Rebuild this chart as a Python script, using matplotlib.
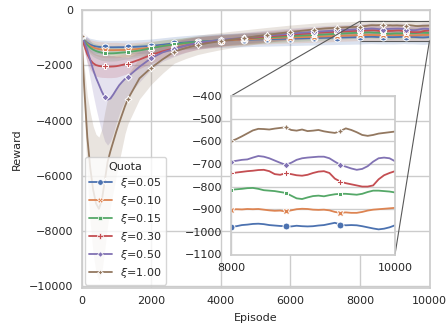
import numpy as np
import matplotlib
matplotlib.use('Agg')
import matplotlib.pyplot as plt
import seaborn as sns
from matplotlib.lines import Line2D
from mpl_toolkits.axes_grid1.inset_locator import mark_inset

# ---------------- data ----------------
quota_labels = ['0.05', '0.10', '0.15', '0.30', '0.50', '1.00']

# episode grid: fine at start, coarse in the middle, fine in the zoomed range
ep_start = np.linspace(0, 4000 / 3, 17)
ep_mid = np.linspace(5000 / 3, 23000 / 3, 19)
ep_end = np.linspace(8000, 10000, 31)
episodes = np.concatenate([ep_start, ep_mid, ep_end])

reward_005 = [
    -950, -1080, -1180, -1250, -1290, -1315, -1330, -1338, -1342, -1345, -1345, -1345, -1344, -1342, -1342, -1341, -1340,
    -1320, -1295, -1250, -1205, -1170, -1140, -1120, -1100, -1088, -1075, -1062, -1052, -1042, -1032, -1022, -1012, -1002, -994, -986,
    -978, -975, -970, -968, -965, -964, -966, -970, -972, -974, -975, -976, -973, -975, -976, -975, -972, -970, -965, -960,
    -968, -971, -970, -971, -975, -980, -985, -989, -986, -980, -971]
reward_010 = [
    -950, -1100, -1220, -1300, -1350, -1385, -1410, -1425, -1440, -1445, -1448, -1448, -1446, -1444, -1442, -1441, -1440,
    -1400, -1355, -1300, -1250, -1205, -1170, -1140, -1110, -1085, -1062, -1040, -1022, -1005, -990, -976, -962, -950, -933, -918,
    -902, -900, -901, -899, -900, -899, -902, -905, -907, -906, -910, -905, -900, -898, -899, -902, -903, -902, -905, -912,
    -916, -914, -916, -916, -912, -906, -902, -900, -898, -896, -894]
reward_015 = [
    -950, -1120, -1260, -1360, -1430, -1480, -1515, -1540, -1555, -1562, -1565, -1562, -1555, -1545, -1535, -1527, -1520,
    -1460, -1380, -1300, -1240, -1190, -1150, -1120, -1090, -1062, -1036, -1010, -986, -963, -940, -920, -900, -880, -855, -835,
    -814, -812, -810, -807, -806, -810, -816, -818, -820, -824, -828, -840, -852, -855, -848, -842, -840, -843, -838, -834,
    -832, -832, -834, -836, -832, -824, -818, -818, -820, -822, -826]
reward_030 = [
    -950, -1300, -1600, -1800, -1920, -1990, -2020, -2035, -2040, -2045, -2045, -2040, -2030, -2010, -1985, -1960, -1940,
    -1790, -1620, -1490, -1380, -1280, -1195, -1145, -1100, -1063, -1026, -990, -956, -922, -890, -860, -830, -800, -780, -760,
    -742, -738, -735, -732, -730, -727, -726, -732, -745, -748, -741, -745, -750, -752, -748, -740, -734, -732, -740, -765,
    -778, -785, -790, -795, -800, -800, -795, -768, -750, -740, -732]
reward_050 = [
    -950, -1150, -1450, -1800, -2150, -2450, -2700, -2950, -3150, -3240, -3200, -3050, -2880, -2720, -2600, -2490, -2410,
    -2050, -1740, -1530, -1400, -1280, -1180, -1125, -1080, -1040, -1000, -960, -922, -886, -850, -818, -788, -760, -735, -712,
    -690, -686, -682, -680, -672, -665, -668, -675, -685, -695, -704, -695, -682, -675, -672, -670, -668, -668, -675, -690,
    -704, -712, -720, -726, -722, -710, -690, -675, -672, -675, -688]
reward_100 = [
    -950, -2900, -4600, -5700, -6500, -7000, -7200, -6900, -6200, -5500, -5100, -4750, -4400, -4080, -3780, -3480, -3220,
    -2470, -2090, -1780, -1500, -1370, -1260, -1185, -1120, -1060, -1005, -950, -895, -843, -790, -745, -700, -660, -635, -615,
    -600, -590, -578, -565, -552, -545, -546, -548, -544, -541, -538, -550, -553, -548, -555, -553, -550, -556, -560, -563,
    -555, -543, -550, -560, -572, -576, -572, -566, -563, -560, -557]

# half-width of the shaded band (start + middle), then the late value
band_005 = [80, 150, 200, 230, 250, 250, 250, 250, 250, 250, 250, 250, 250, 250, 250, 250, 250,
            250, 250, 250, 250, 250, 250, 250, 250, 250, 250, 250, 250, 250, 250, 250, 250, 250, 250, 250]
band_010 = [80, 150, 200, 230, 250, 260, 270, 280, 280, 280, 280, 280, 280, 270, 260, 250, 250,
            240, 230, 220, 210, 200, 200, 200, 200, 200, 200, 200, 200, 200, 200, 200, 200, 200, 200, 200]
band_015 = [80, 150, 200, 230, 250, 260, 270, 280, 280, 280, 280, 280, 280, 270, 260, 250, 250,
            240, 230, 220, 210, 200, 200, 200, 200, 200, 200, 200, 200, 200, 200, 200, 200, 200, 200, 200]
band_030 = [80, 200, 300, 350, 380, 400, 400, 400, 400, 400, 400, 400, 400, 390, 380, 370, 360,
            330, 300, 280, 260, 240, 230, 220, 210, 200, 200, 200, 200, 200, 200, 200, 200, 200, 200, 200]
band_050 = [80, 300, 500, 700, 900, 1100, 1300, 1450, 1600, 1650, 1550, 1400, 1200, 1050, 900, 800, 700,
            550, 400, 320, 280, 250, 230, 220, 210, 200, 200, 200, 200, 200, 200, 200, 200, 200, 200, 200]
band_100 = [100, 800, 1500, 2000, 2300, 2500, 2600, 2600, 2500, 2300, 2000, 1800, 1600, 1400, 1200, 1000, 900,
            750, 600, 500, 420, 380, 350, 330, 310, 300, 290, 280, 270, 260, 250, 240, 230, 220, 210, 200]
band_late = [250, 200, 200, 200, 200, 200]

rewards = [reward_005, reward_010, reward_015, reward_030, reward_050, reward_100]
bands = [band_005, band_010, band_015, band_030, band_050, band_100]

main_xticks = [0, 2000, 4000, 6000, 8000, 10000]
main_yticks = [0, -2000, -4000, -6000, -8000, -10000]
inset_xticks = [8000, 10000]
inset_yticks = [-1100, -1000, -900, -800, -700, -600, -500, -400]

# ---------------- style ----------------
sns.set_theme(style='whitegrid')
plt.rcParams['font.family'] = ['DejaVu Sans']
plt.rcParams.update({
    'font.size': 8, 'axes.labelsize': 8, 'xtick.labelsize': 8, 'ytick.labelsize': 8,
    'legend.fontsize': 8, 'legend.title_fontsize': 8,
    'xtick.major.size': 0, 'ytick.major.size': 0,
    'xtick.major.pad': 6, 'ytick.major.pad': 6,
    'axes.labelpad': 5,
})

colors = sns.color_palette('deep', 6)
markers = ['o', 'X', (4, 0, 45), 'P', (4, 0, 0), (4, 1, 0)]

spacing = 10000 / 15
ratio = episodes / spacing
mark_idx = [i for i in range(len(episodes))
            if abs(ratio[i] - round(ratio[i])) < 1e-6 and episodes[i] < 9999]

fig = plt.figure(figsize=(4.48, 3.27), dpi=100)
ax = fig.add_axes([81.5 / 448, 39 / 327, 348 / 448, 278.5 / 327])

for i in range(6):
    y = np.array(rewards[i], dtype=float)
    b = np.array(bands[i] + [band_late[i]] * len(ep_end), dtype=float)
    ax.fill_between(episodes, y - b, y + b, color=colors[i], alpha=0.2, lw=0)
    ax.plot(episodes, y, color=colors[i], lw=1.3, marker=markers[i], markevery=mark_idx,
            ms=5, mec='white', mew=0.7)

ax.set_xlim(0, 10000)
ax.set_ylim(-10070, 25)
ax.set_xticks(main_xticks)
ax.set_yticks(main_yticks)
ax.set_xlabel('Episode')
ax.set_ylabel('Reward')

handles = [Line2D([], [], color=colors[i], lw=1.3, marker=markers[i], ms=4, mec='white', mew=0.5)
           for i in range(6)]
labels = [r'$\xi$=' + q for q in quota_labels]
ax.legend(handles, labels, title='Quota', loc='lower left', borderaxespad=0.3, framealpha=0.8,
          labelspacing=0.37)

# ---------------- inset ----------------
axins = fig.add_axes([231 / 448, (327 - 254.5) / 327, 164 / 448, 158.5 / 327])
for i in range(6):
    y = np.array(rewards[i], dtype=float)
    axins.plot(episodes, y, color=colors[i], lw=1.3, marker=markers[i], markevery=mark_idx,
               ms=5, mec='white', mew=0.7)
axins.set_xlim(8000, 10000)
axins.set_ylim(-1100, -400)
axins.set_xticks(inset_xticks)
axins.set_yticks(inset_yticks)

mark_inset(ax, axins, loc1=2, loc2=4, fc='none', ec='0.35', lw=0.8)

fig.savefig('out.png', dpi=100)
